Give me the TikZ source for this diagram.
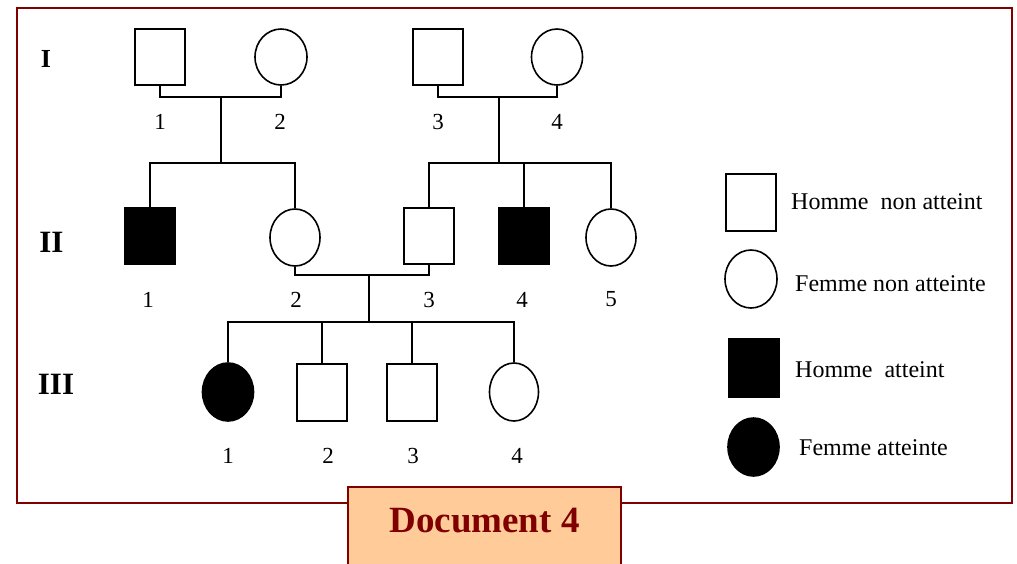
\documentclass[tikz,border=0pt]{standalone}
\usepackage{fontspec}
\setmainfont{Liberation Serif}
\usetikzlibrary{shapes.geometric}
\definecolor{framered}{HTML}{800000}
\definecolor{peach}{HTML}{FFCC99}
\begin{document}
\begin{tikzpicture}[x=1pt,y=-1pt,
  male/.style={draw,rectangle,line width=1.6pt,inner sep=0pt,minimum width=50pt,minimum height=56pt},
  female/.style={draw,ellipse,line width=1.6pt,inner sep=0pt,minimum width=51pt,minimum height=57pt},
  aff/.style={fill=black},
  num/.style={font=\fontsize{23}{23}\selectfont,inner sep=0pt},
  gen/.style={font=\fontsize{31}{31}\selectfont\bfseries,inner sep=0pt},
  leg/.style={font=\fontsize{24}{24}\selectfont,anchor=west,inner sep=0pt},
  link/.style={line width=1.6pt}]
\useasboundingbox (0,0) rectangle (1017,563);
% frame
\draw[framered,line width=2pt] (17,8) rectangle (1012,503);
% generation labels
\node[gen,font=\fontsize{26}{26}\selectfont\bfseries] (gI) at (46,58.5) {I};
\node[gen] (gII) at (51.5,242.5) {II};
\node[gen] (gIII) at (56,384) {III};
% generation I
\node[male] (I1) at (160,57) {};
\node[female,minimum width=52pt,minimum height=56pt] (I2) at (281,57) {};
\node[male] (I3) at (438,57) {};
\node[female,minimum height=56pt] (I4) at (557,57) {};
\node[num] (lI1) at (160,121.5) {1};
\node[num] (lI2) at (280,121.5) {2};
\node[num] (lI3) at (438,121.5) {3};
\node[num] (lI4) at (557,121.5) {4};
% generation II
\node[male,aff,minimum height=57pt] (II1) at (150,236) {};
\node[female,minimum width=50pt] (II2) at (295,237.5) {};
\node[male] (II3) at (429,236) {};
\node[male,aff] (II4) at (524,236) {};
\node[female,minimum width=50pt] (II5) at (611,237.5) {};
\node[num] (lII1) at (148,299.5) {1};
\node[num] (lII2) at (296,299.5) {2};
\node[num] (lII3) at (429,299.5) {3};
\node[num] (lII4) at (522,299.5) {4};
\node[num] (lII5) at (611,299.5) {5};
% generation III
\node[female,aff,minimum height=58pt] (III1) at (228,392) {};
\node[male,minimum height=57pt] (III2) at (322,392.5) {};
\node[male,minimum height=57pt] (III3) at (412,392.5) {};
\node[female,minimum width=49pt,minimum height=58pt] (III4) at (514,392) {};
\node[num] (lIII1) at (228,456) {1};
\node[num] (lIII2) at (328,456) {2};
\node[num] (lIII3) at (413,456) {3};
\node[num] (lIII4) at (517,456) {4};
% connectors
\coordinate (m1) at (221,97);
\coordinate (s1) at (221,163);
\coordinate (m2) at (499,97);
\coordinate (s2) at (499,163);
\coordinate (m3) at (369,275);
\coordinate (s3) at (369,322);
\draw[link] (I1.south) |- (m1) -| (I2.south);
\draw[link] (m1) -- (s1);
\draw[link] (II1.north) |- (s1) -| (II2.north);
\draw[link] (I3.south) |- (m2) -| (I4.south);
\draw[link] (m2) -- (s2);
\draw[link] (II3.north) |- (s2) -| (II5.north);
\draw[link] (II4.north) -- (II4.north |- s2);
\draw[link] (II2.south) |- (m3) -| (II3.south);
\draw[link] (m3) -- (s3);
\draw[link] (III1.north) |- (s3) -| (III4.north);
\draw[link] (III2.north) -- (III2.north |- s3);
\draw[link] (III3.north) -- (III3.north |- s3);
% legend
\node[male,minimum height=57pt] (k1) at (751,202.5) {};
\node[female,minimum width=52pt,minimum height=58pt] (k2) at (751,279) {};
\node[male,aff,minimum height=58pt] (k3) at (754,368) {};
\node[female,aff,minimum height=58pt] (k4) at (753.5,447) {};
\node[leg] (t1) at (791,201.5) {Homme\ \ non atteint};
\node[leg] (t2) at (795,283.5) {Femme non atteinte};
\node[leg] (t3) at (795,370) {Homme\ \ atteint};
\node[leg] (t4) at (799,448) {Femme atteinte};
% title box
\draw[framered,fill=peach,line width=2pt] (348,487) rectangle (621,570);
\node[font=\fontsize{37}{37}\selectfont\bfseries,text=framered,inner sep=0pt] (doc) at (484.5,521) {Document 4};
\end{tikzpicture}
\end{document}
